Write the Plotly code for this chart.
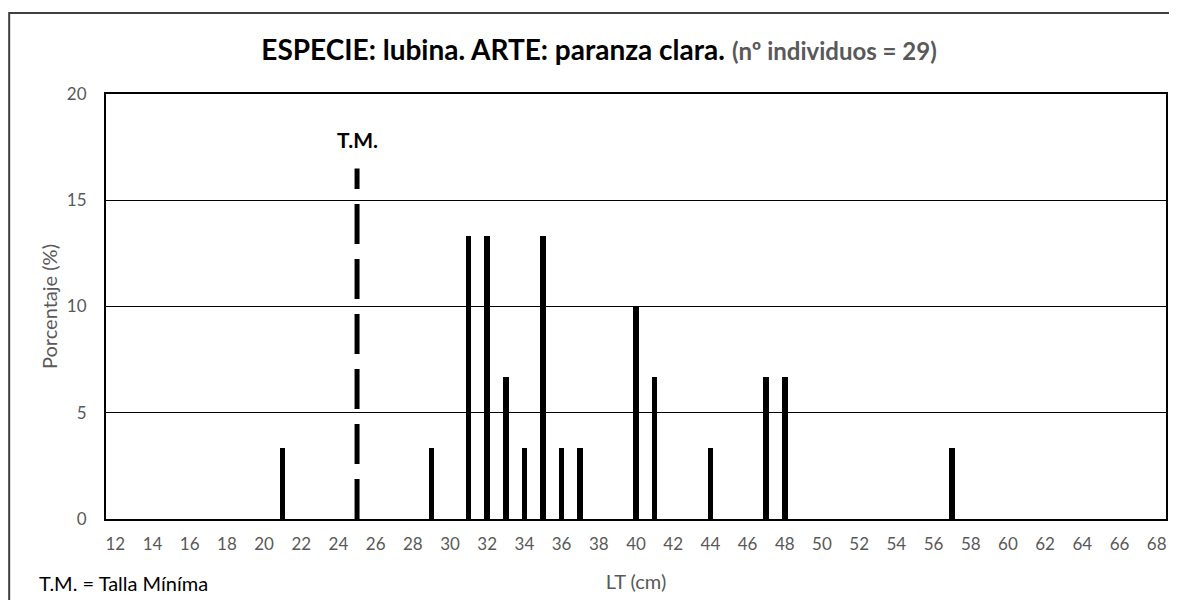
import plotly.graph_objects as go

lt_cm = [21, 29, 31, 32, 33, 34, 35, 36, 37, 40, 41, 44, 47, 48, 57]
porcentaje = [3.33, 3.33, 13.33, 13.33, 6.67, 3.33, 13.33, 3.33, 3.33, 10.0, 6.67, 3.33, 6.67, 6.67, 3.33]
talla_minima = 25
tm_line_top = 16.5
x_ticks = list(range(12, 69, 2))
y_ticks = [0, 5, 10, 15, 20]

FONT = "Lato"
GRAY = "#595959"

W, H = 1161, 592
L, R, T, B = 98, 1, 86, 81
PW, PH = W - L - R, H - T - B


def px(x):
    return (x - L) / PW


def py(y):
    return (H - B - y) / PH


fig = go.Figure()
fig.add_trace(go.Bar(x=lt_cm, y=porcentaje, width=0.3, marker=dict(color="black", line=dict(width=0)),
                     showlegend=False))
fig.add_trace(go.Scatter(x=[talla_minima, talla_minima], y=[0, tm_line_top], mode="lines",
                         line=dict(color="black", width=5, dash="40px,15px"), showlegend=False))

fig.add_annotation(x=talla_minima, y=17.85, text="<b>T.M.</b>", showarrow=False,
                   font=dict(family=FONT, size=21, color="black"))

fig.update_layout(
    width=W, height=H,
    margin=dict(l=L, r=R, t=T, b=B),
    paper_bgcolor="white", plot_bgcolor="white",
    font=dict(family=FONT, size=17, color=GRAY),
    title=dict(text="<b>ESPECIE: lubina. ARTE: paranza clara.</b> <span style='font-size:24px;color:#595959'><b>(nº individuos = 29)</b></span>",
               x=px(592), xref="paper", xanchor="center", y=1 - 42 / H, yref="container", yanchor="middle",
               font=dict(family=FONT, size=28, color="black")),
    bargap=0,
)
fig.update_xaxes(range=[11.5, 68.5], tickmode="array", tickvals=x_ticks, ticks="",
                 showgrid=False, showline=True, linecolor="black", linewidth=2, mirror=True,
                 zeroline=False, tickfont=dict(size=17, color=GRAY), ticklabelstandoff=9,
                 title=dict(text="LT (cm)", font=dict(size=20, color=GRAY), standoff=22))
fig.update_yaxes(range=[0, 20], tickmode="array", tickvals=y_ticks, ticks="",
                 showgrid=True, gridcolor="black", gridwidth=1,
                 showline=True, linecolor="black", linewidth=2, mirror=True,
                 zeroline=False, tickfont=dict(size=17, color=GRAY), ticklabelstandoff=14,
                 title=dict(text="Porcentaje (%)", font=dict(size=20, color=GRAY), standoff=4))

fig.add_annotation(xref="paper", yref="paper", x=px(29), y=py(575),
                   xanchor="left", yanchor="middle", showarrow=False,
                   text="T.M. = Talla Míníma", font=dict(family=FONT, size=20, color="black"))

fig.add_shape(type="rect", xref="paper", yref="paper",
              x0=px(1), x1=px(1175), y0=py(605), y1=py(5),
              line=dict(color="#404040", width=2), fillcolor="rgba(0,0,0,0)", layer="below")

fig.write_html("out.html")
